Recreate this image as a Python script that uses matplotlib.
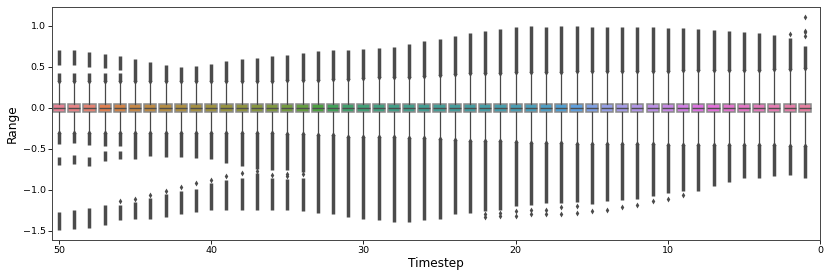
import numpy as np
import matplotlib
matplotlib.use("Agg")
import matplotlib.pyplot as plt
import seaborn as sns

# ----------- DATA -----------
timesteps = list(range(50, 0, -1))

box_q1 = [-0.045] * 50
box_med = [0.0] * 50
box_q3 = [0.045] * 50

whis_hi = [0.33] * 15 + [
    0.34, 0.34, 0.34, 0.35, 0.35, 0.36, 0.37, 0.37, 0.38, 0.39, 0.40, 0.41, 0.42, 0.42, 0.43, 0.44, 0.44,
    0.44, 0.44, 0.45, 0.45, 0.45, 0.45, 0.45, 0.45, 0.45, 0.46, 0.46, 0.46, 0.46, 0.46, 0.46, 0.47, 0.47, 0.48]
whis_lo = [-0.31] * 15 + [
    -0.32, -0.32, -0.33, -0.33, -0.35, -0.35, -0.36, -0.36, -0.37, -0.37, -0.38, -0.39, -0.40, -0.40, -0.41, -0.42, -0.43,
    -0.43, -0.43, -0.44, -0.44, -0.44, -0.44, -0.44, -0.44, -0.45, -0.45, -0.45, -0.45, -0.45, -0.45, -0.45, -0.45, -0.46, -0.46]

# outermost outliers of each timestep (dense columns of fliers)
flier_top = [
    0.71, 0.70, 0.68, 0.66, 0.63, 0.60, 0.56, 0.52, 0.50, 0.51, 0.54, 0.57, 0.59, 0.61, 0.63,
    0.64, 0.67, 0.69, 0.70, 0.71, 0.72, 0.73, 0.74, 0.78, 0.81, 0.84, 0.88, 0.91, 0.94, 0.96, 0.98, 1.00,
    0.99, 1.00, 1.00, 0.99, 0.99, 0.99, 0.99, 0.98, 0.97, 0.97, 0.96, 0.95, 0.94, 0.92, 0.91, 0.89, 0.85, 0.75]
flier_bottom = [
    -1.49, -1.48, -1.46, -1.43, -1.37, -1.36, -1.35, -1.33, -1.30, -1.27, -1.25, -1.24, -1.24, -1.24, -1.24,
    -1.25, -1.26, -1.28, -1.30, -1.33, -1.35, -1.37, -1.39, -1.39, -1.37, -1.35, -1.30, -1.28, -1.26, -1.24,
    -1.20, -1.18, -1.16, -1.16, -1.15, -1.17, -1.14, -1.12, -1.11, -1.08, -1.04, -1.02, -1.01, -0.95, -0.90,
    -0.86, -0.85, -0.83, -0.82, -0.86]

# empty stretches inside the flier columns: (timestep, low, high)
flier_gaps = [
    (50, 0.42, 0.52), (49, 0.42, 0.52), (48, 0.42, 0.50), (47, 0.42, 0.49), (46, 0.43, 0.46),
    (50, -0.60, -0.44), (50, -1.27, -0.70), (49, -0.58, -0.43), (49, -1.25, -0.68),
    (48, -0.60, -0.45), (48, -1.22, -0.71), (47, -0.53, -0.46), (47, -1.18, -0.65),
    (46, -0.53, -0.47), (46, -1.18, -0.63), (45, -1.15, -0.62), (44, -1.10, -0.59),
    (43, -1.05, -0.60), (42, -1.01, -0.60), (41, -0.99, -0.61), (40, -0.92, -0.63),
    (39, -0.88, -0.67), (38, -0.85, -0.71), (37, -0.80, -0.74), (36, -0.86, -0.76),
    (35, -0.87, -0.76), (34, -0.85, -0.78)]

# isolated outliers
lone_t = [46, 45, 44, 43, 42, 41, 40, 39, 38, 37, 36, 35, 35, 34,
          22, 22, 21, 21, 20, 20, 19, 19, 18, 18, 17, 17, 16, 16, 15, 14, 13, 12, 11, 10, 9,
          2, 1, 1, 1, 1]
lone_y = [-1.14, -1.11, -1.06, -1.02, -0.96, -0.92, -0.88, -0.83, -0.79, -0.77, -0.82, -0.81, -0.83, -0.81,
          -1.30, -1.33, -1.28, -1.32, -1.26, -1.32, -1.24, -1.30, -1.24, -1.30, -1.21, -1.29, -1.20, -1.28,
          -1.26, -1.24, -1.21, -1.18, -1.14, -1.11, -1.06,
          0.90, 0.87, 0.93, 0.94, 1.11]

colors = sns.color_palette("husl", len(timesteps), desat=0.75)
FLIER_GRAY = "#4b4b4b"


def split_column(t, lo, hi):
    """cut a flier column [lo, hi] by the gaps listed for timestep t"""
    segs = [(lo, hi)]
    for gt, glo, ghi in flier_gaps:
        if gt != t:
            continue
        new = []
        for a, b in segs:
            if ghi <= a or glo >= b:
                new.append((a, b))
                continue
            if glo > a:
                new.append((a, glo))
            if ghi < b:
                new.append((ghi, b))
        segs = new
    return segs


# ----------- PLOT -----------
fig = plt.figure(figsize=(8.3, 2.77), dpi=100)
ax = fig.add_axes([0.0627, 0.134, 0.9253, 0.841])

stats = []
for i, t in enumerate(timesteps):
    stats.append(dict(med=box_med[i], q1=box_q1[i], q3=box_q3[i],
                      whislo=whis_lo[i], whishi=whis_hi[i], fliers=[]))

bp = ax.bxp(stats, positions=timesteps, widths=0.8, patch_artist=True,
            showfliers=False, showcaps=False, manage_ticks=False,
            boxprops=dict(edgecolor="#8a8a8a", linewidth=1.1),
            medianprops=dict(color="#4d4d4d", linewidth=1.0),
            whiskerprops=dict(color="#484848", linewidth=0.9))
for patch, c in zip(bp["boxes"], colors):
    patch.set_facecolor(c)

seg_x, seg_lo, seg_hi = [], [], []
for i, t in enumerate(timesteps):
    for a, b in split_column(t, whis_hi[i], flier_top[i]) + split_column(t, flier_bottom[i], whis_lo[i]):
        seg_x.append(t); seg_lo.append(a); seg_hi.append(b)
ax.vlines(seg_x, seg_lo, seg_hi, colors=FLIER_GRAY, linewidth=2.5, zorder=1.5)
# small flare where the fliers pile up at the whisker ends
ax.scatter(timesteps + timesteps, whis_hi + whis_lo, marker="d", s=12,
           color=FLIER_GRAY, linewidths=0, zorder=1.6)
ax.scatter(lone_t, lone_y, marker="d", s=9, color=FLIER_GRAY, linewidths=0, zorder=1.5)

ax.set_xlim(50.46, 0)
ax.set_ylim(-1.61, 1.23)
ax.set_xticks([50, 40, 30, 20, 10, 0])
ax.set_yticks([-1.5, -1.0, -0.5, 0.0, 0.5, 1.0])
ax.tick_params(labelsize=6.8, length=2.6, width=0.6, pad=2)
for s in ax.spines.values():
    s.set_linewidth(0.7)
    s.set_color("#444444")
ax.set_xlabel("Timestep", fontsize=8.7, labelpad=1)
ax.set_ylabel("Range", fontsize=8.7, labelpad=3)

fig.savefig("out.png", dpi=100)
